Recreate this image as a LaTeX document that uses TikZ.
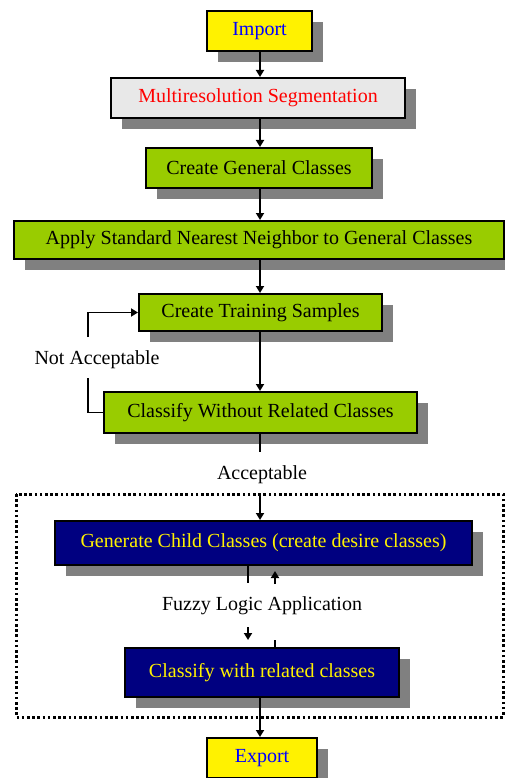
\documentclass[tikz,border=0pt]{standalone}
\usepackage{fontspec}
\setmainfont{Liberation Serif}
\usetikzlibrary{shadows,arrows.meta}
\definecolor{lime}{HTML}{99CC00}
\definecolor{navy}{HTML}{000080}
\definecolor{paper}{HTML}{E8E8E8}
\begin{document}
\begin{tikzpicture}[x=1pt,y=-1pt,font=\fontsize{20}{22}\selectfont,
box/.style={draw,line width=2pt,inner sep=0pt,minimum height=40pt,
  drop shadow={shadow xshift=11pt,shadow yshift=-11pt,fill=black!50,opacity=1}},
endbox/.style={box,fill=yellow,text=blue},
greenbox/.style={box,fill=lime},
bluebox/.style={box,fill=navy,text=yellow},
flow/.style={line width=1.8pt,-{Triangle[length=7pt,width=8pt]}},
plain/.style={line width=1.8pt}]
\useasboundingbox (0,0) rectangle (505,778);
\draw[line width=3pt,dash pattern=on 2.6pt off 2.6pt] (16,494) rectangle (503,717);
\node[endbox,minimum width=105pt] (import) at (259.5,31) {Import};
\node[box,fill=paper,text=red,minimum width=294pt] (seg) at (258,98) {Multiresolution Segmentation};
\node[greenbox,minimum width=226pt] (general) at (259,168) {Create General Classes};
\node[greenbox,minimum width=490pt,minimum height=38pt] (nn) at (259,240) {Apply Standard Nearest Neighbor to General Classes};
\node[greenbox,minimum width=243pt,minimum height=37pt] (train) at (260.5,312.5) {Create Training Samples};
\node[greenbox,minimum width=313pt,minimum height=41pt] (classify) at (260.5,412.5) {Classify Without Related Classes};
\node[bluebox,minimum width=417pt,minimum height=44pt] (child) at (263.5,543) {Generate Child Classes (create desire classes)};
\node[bluebox,minimum width=274pt,minimum height=49pt] (related) at (262,672.5) {Classify with related classes};
\node[endbox,minimum width=110pt] (export) at (262,758) {Export};
\node (notacc) at (97,360) {Not Acceptable};
\node (acc) at (262,475) {Acceptable};
\node (fuzzy) at (262,606) {Fuzzy Logic Application};
\coordinate (loopb) at (88,378);
\coordinate (loopt) at (88,337);
\coordinate (accb) at (260,452);
\coordinate (acct) at (260,494);
\coordinate (downa) at (248,583);
\coordinate (downb) at (248,627);
\coordinate (upa) at (275,584);
\coordinate (upb) at (275,625);
\draw[flow] (import.south -| acct) -- (seg.north -| acct);
\draw[flow] (seg.south -| acct) -- (general.north -| acct);
\draw[flow] (general.south -| acct) -- (nn.north -| acct);
\draw[flow] (nn.south -| acct) -- (train.north -| acct);
\draw[flow] (train.south -| acct) -- (classify.north -| acct);
\draw[plain] (classify.west) -| (loopb);
\draw[flow] (loopt) |- (train.west);
\draw[plain] (classify.south -| accb) -- (accb);
\draw[flow] (acct) -- (child.north -| acct);
\draw[plain] (child.south -| downa) -- (downa);
\draw[flow,shorten >=7pt] (downb) -- (related.north -| downb);
\draw[plain,shorten >=15pt] (related.north -| upb) -- (upb);
\draw[flow,shorten >=5pt] (upa) -- (child.south -| upa);
\draw[flow] (related.south -| acct) -- (export.north -| acct);
\end{tikzpicture}
\end{document}
